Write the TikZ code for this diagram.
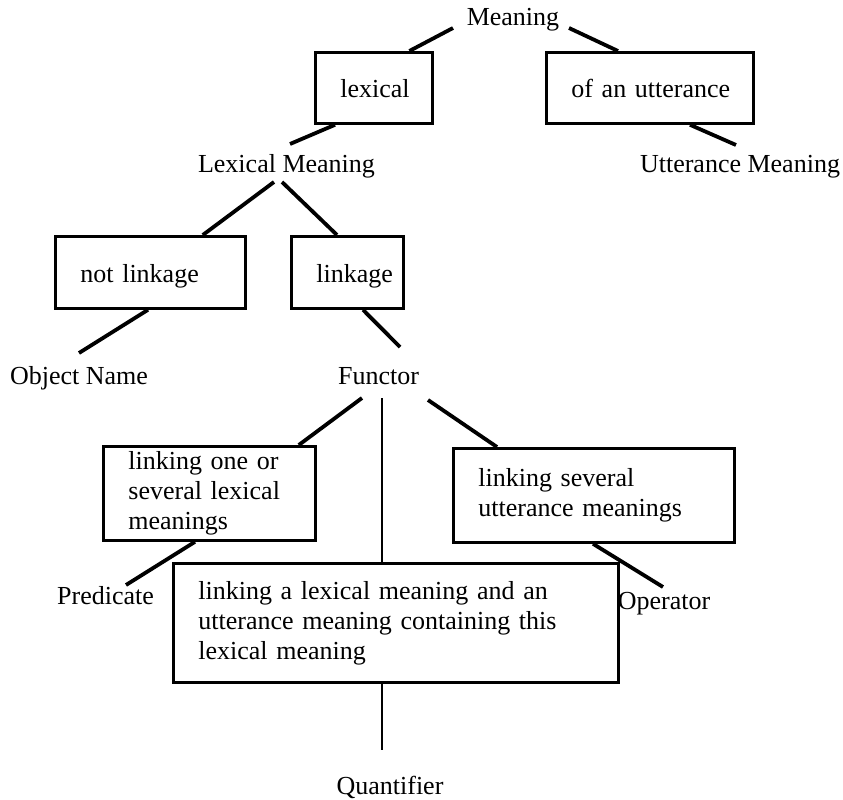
\documentclass[tikz,border=0pt]{standalone}
\usepackage{fontspec}
\setmainfont{Liberation Serif}
\usepackage{tikz}
\tikzset{
  boxed/.style={draw,line width=2.8pt,anchor=north west,align=left,
                inner xsep=25pt,inner ysep=0pt},
  oneline/.style={text height=20pt,text depth=0pt},
  term/.style={anchor=base,inner sep=0pt},
  branch/.style={line width=3.8pt},
  stem/.style={line width=1.8pt},
}

\begin{document}
\begin{tikzpicture}[x=1pt,y=-1pt,font=\fontsize{26}{30}\selectfont]
  \useasboundingbox (0,0) rectangle (843,800);

  % Meaning and its two kinds
  \node[term] (meaning) at (513,26) {Meaning};
  \node[boxed,oneline,text width=67pt,minimum height=71pt] (lexbox)
    at (314,51) {\mbox{lexical}};
  \node[boxed,oneline,text width=157pt,minimum height=71pt] (uttbox)
    at (545,51) {\mbox{of an utterance}};
  \node[term] (lexmean) at (286.5,172) {Lexical Meaning};
  \node[term] (uttmean) at (740,172) {Utterance Meaning};

  % Lexical meaning splits
  \node[boxed,oneline,text width=140pt,minimum height=72pt] (notlink)
    at (54,235) {not linkage};
  \node[boxed,oneline,text width=62pt,minimum height=72pt] (link)
    at (290,235) {\mbox{linkage}};
  \node[term] (objname) at (79,384) {Object Name};
  \node[term] (functor) at (378.5,384) {Functor};

  % Kinds of functor
  \node[boxed,text width=162pt,minimum height=94pt] (pred)
    at (102,445) {linking one or\\several lexical\\meanings};
  \node[boxed,text width=231pt,minimum height=94pt] (oper)
    at (452,447) {linking several\\utterance meanings};
  \node[boxed,text width=395pt,minimum height=119pt] (big)
    at (172,562) {linking a lexical meaning and an\\
                  utterance meaning containing this\\lexical meaning};
  \node[term] (predicate) at (105.5,604) {Predicate};
  \node[term] (operator) at (664,609) {Operator};
  \node[term] (quantifier) at (390,794) {Quantifier};

  % connectors
  \draw[branch] ([shift={(-60,2)}]meaning.base) -- ([shift={(35.5,0)}]lexbox.north);
  \draw[branch] ([shift={(56,2)}]meaning.base) -- ([shift={(73,0)}]uttbox.north west);
  \draw[branch] ([shift={(21,0)}]lexbox.south west) -- ([shift={(3.5,-28)}]lexmean.base);
  \draw[branch] ([shift={(145,0)}]uttbox.south west) -- ([shift={(-4,-27)}]uttmean.base);
  \draw[branch] ([shift={(-12.5,10)}]lexmean.base) -- ([shift={(-44,0)}]notlink.north east);
  \draw[branch] ([shift={(-4.5,10)}]lexmean.base) -- ([shift={(47,0)}]link.north west);
  \draw[branch] ([shift={(94,0)}]notlink.south west) -- ([shift={(0,-31)}]objname.base);
  \draw[branch] ([shift={(73,0)}]link.south west) -- ([shift={(21.5,-37)}]functor.base);
  \draw[branch] ([shift={(-16.5,14)}]functor.base) -- ([shift={(-18,0)}]pred.north east);
  \draw[stem] ([shift={(3.5,14)}]functor.base) -- ([shift={(210,0)}]big.north west);
  \draw[branch] ([shift={(49.5,16)}]functor.base) -- ([shift={(45,0)}]oper.north west);
  \draw[branch] ([shift={(93,0)}]pred.south west) -- ([shift={(20.5,-19)}]predicate.base);
  \draw[branch] ([shift={(141,0)}]oper.south west) -- ([shift={(-1,-22)}]operator.base);
  \draw[stem] ([shift={(210,0)}]big.south west) -- ([shift={(-8,-44)}]quantifier.base);
\end{tikzpicture}
\end{document}
